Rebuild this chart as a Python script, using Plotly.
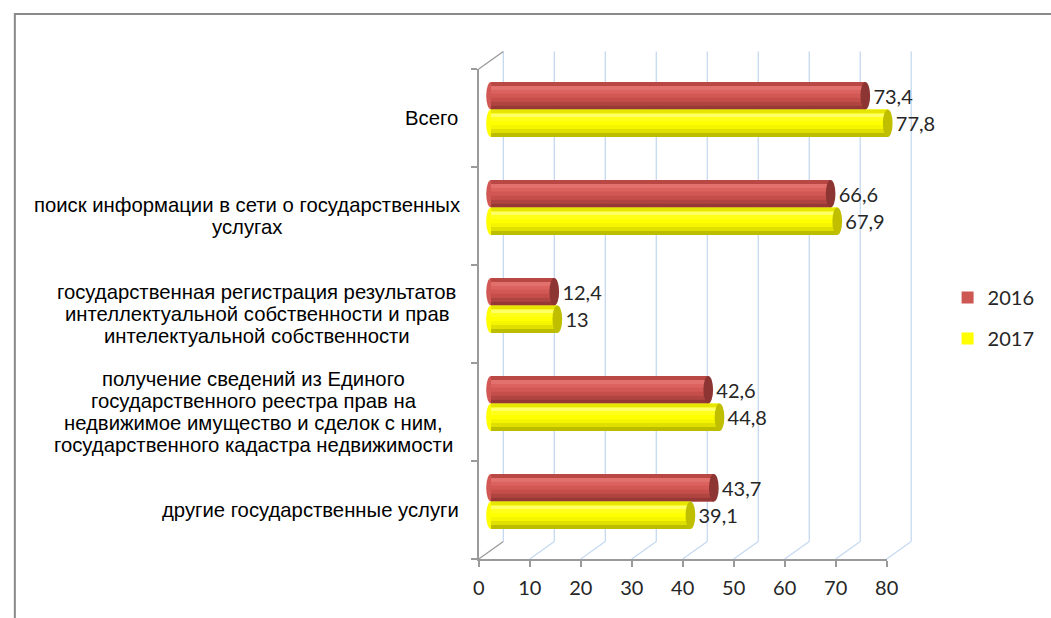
import plotly.graph_objects as go

# ---- data ----
categories = [
    "Всего",
    "поиск информации в сети о государственных услугах",
    "государственная регистрация результатов интеллектуальной собственности и прав интелектуальной собственности",
    "получение сведений из Единого государственного реестра прав на недвижимое имущество и сделок с ним, государственного кадастра недвижимости",
    "другие государственные услуги",
]
label_lines = [
    ["Всего"],
    ["поиск информации в сети о государственных", "услугах"],
    ["государственная регистрация результатов", "интеллектуальной собственности и прав", "интелектуальной собственности"],
    ["получение сведений из Единого", "государственного реестра прав на", "недвижимое имущество и сделок с ним,", "государственного кадастра недвижимости"],
    ["другие государственные услуги"],
]
series_names = ["2016", "2017"]
values_2016 = [73.4, 66.6, 12.4, 42.6, 43.7]
values_2017 = [77.8, 67.9, 13.0, 44.8, 39.1]
x_ticks = [0, 10, 20, 30, 40, 50, 60, 70, 80]

# ---- geometry helpers (pixel -> paper) ----
W, H = 1051, 618
def px(x): return x / W
def py(y): return 1 - y / H

X0 = 493.5          # pixel of value 0 on the bar (mid-depth) plane
S = 5.1875          # pixels per unit
FX0, FY_BOT, FY_TOP = 481, 559, 69   # front axis frame
DX, DY = 25, -17.5                   # depth offset (back wall)
BARGAP = 0.44
BW = (1 - BARGAP) / 2

red_shades = ["#B94744", "#E2706C", "#DB625E", "#D15854", "#C54E4A", "#B04440", "#963835"]
yel_shades = ["#E6E600", "#FFFF66", "#FFFF1A", "#FFFF00", "#F5F500", "#E0E000", "#BDBD00"]
cap_colors = ["#8C3532", "#BFBF00"]
body_colors = ["#CD5753", "#FFFF00"]

fig = go.Figure()
for name, vals, col in zip(series_names, [values_2016, values_2017], body_colors):
    fig.add_trace(go.Bar(
        y=categories, x=vals, name=name, orientation="h",
        marker=dict(color=col, line=dict(width=0)),
        text=[" " + f"{v:g}".replace(".", ",") for v in vals],
        textposition="outside", constraintext="none", cliponaxis=False,
        textfont=dict(family="Lato", size=20, color="#262626"),
        legendgroup=name,
    ))

# dummy trace to materialise the front-frame axes
fig.add_trace(go.Scatter(x=[0], y=[0], xaxis="x2", yaxis="y2", mode="markers",
                         marker=dict(opacity=0), showlegend=False, hoverinfo="skip"))

shapes = []
grid_col = "#C6D9F1"
axis_col = "#9A9A9A"
# outer border
shapes.append(dict(type="rect", xref="paper", yref="paper", x0=px(9), x1=px(1070),
                   y0=py(640), y1=py(14), line=dict(color="#8A8A8A", width=2)))
# back wall vertical gridlines and floor diagonals
for k, t in enumerate(x_ticks):
    fx = FX0 + t * S
    bx = fx + DX
    shapes.append(dict(type="line", xref="paper", yref="paper", x0=px(bx), x1=px(bx),
                       y0=py(FY_BOT + DY), y1=py(FY_TOP + DY), line=dict(color=grid_col, width=1.3), layer="below"))
    shapes.append(dict(type="line", xref="paper", yref="paper", x0=px(fx), x1=px(bx),
                       y0=py(FY_BOT), y1=py(FY_BOT + DY),
                       line=dict(color=axis_col if k == 0 else grid_col, width=1.3), layer="below"))
# top-left diagonal
shapes.append(dict(type="line", xref="paper", yref="paper", x0=px(FX0), x1=px(FX0 + DX),
                   y0=py(FY_TOP), y1=py(FY_TOP + DY), line=dict(color=axis_col, width=1.3), layer="below"))

# cylinder shading for bars
for si, (vals, shades) in enumerate(zip([values_2016, values_2017], [red_shades, yel_shades])):
    for i, v in enumerate(vals):
        c = i + (-BW / 2 if si == 0 else BW / 2)
        top, bot = c - BW / 2, c + BW / 2
        shapes.append(dict(type="circle", xref="x", yref="y", x0=-0.95, x1=0.95, y0=top, y1=bot,
                           fillcolor=shades[3], line=dict(width=0), layer="below"))
        n = len(shades)
        for j, sc in enumerate(shades):
            shapes.append(dict(type="rect", xref="x", yref="y", x0=0, x1=v,
                               y0=top + (bot - top) * j / n, y1=top + (bot - top) * (j + 1) / n,
                               fillcolor=sc, line=dict(width=0), layer="above"))
        shapes.append(dict(type="circle", xref="x", yref="y", x0=v - 0.95, x1=v + 0.95, y0=top, y1=bot,
                           fillcolor=cap_colors[si], line=dict(width=0), layer="above"))

# category labels
annotations = []
centers = [433, 245, 255, 252, 310]
for i, lines in enumerate(label_lines):
    n = len(lines)
    for li, ln in enumerate(lines):
        annotations.append(dict(text=ln, xref="paper", yref="y2", x=px(centers[i]), y=4.5 - i,
                                xanchor="center", yanchor="middle", showarrow=False,
                                yshift=-(li - (n - 1) / 2) * 22,
                                font=dict(family="Liberation Sans", size=20.3, color="#000000")))

fig.update_layout(
    autosize=True,
    margin=dict(l=0, r=0, t=0, b=0),
    paper_bgcolor="white", plot_bgcolor="rgba(0,0,0,0)",
    barmode="group", bargap=BARGAP, bargroupgap=0,
    showlegend=True,
    legend=dict(x=px(958), y=py(318), xanchor="left", yanchor="middle", traceorder="grouped",
                tracegroupgap=12, font=dict(family="Lato", size=20, color="#262626"),
                bgcolor="rgba(0,0,0,0)"),
    xaxis=dict(domain=[px(X0 - 2 * S), px(X0 + 82 * S)], range=[-2, 82], showgrid=False,
               zeroline=False, showticklabels=False, showline=False, anchor="y"),
    yaxis=dict(domain=[py(550.5), py(60.5)], type="category", categoryarray=categories,
               categoryorder="array", range=[4.5, -0.5], showgrid=False, zeroline=False,
               showticklabels=False, showline=False, anchor="x"),
    xaxis2=dict(domain=[px(FX0), px(FX0 + 80 * S)], range=[0, 80], tickvals=x_ticks,
                ticks="outside", ticklen=6, tickcolor=axis_col, tickwidth=1.5, showline=True,
                linecolor=axis_col, linewidth=1.5, showgrid=False, zeroline=False, anchor="y2",
                ticklabelstandoff=4, tickfont=dict(family="Lato", size=20, color="#262626")),
    yaxis2=dict(domain=[py(FY_BOT), py(FY_TOP)], range=[0, 5], tickvals=[0, 1, 2, 3, 4, 5],
                ticks="outside", ticklen=6, tickcolor=axis_col, tickwidth=1.5, showline=True,
                linecolor=axis_col, linewidth=1.5, showgrid=False, zeroline=False,
                showticklabels=False, anchor="x2"),
    shapes=shapes, annotations=annotations,
)

fig.write_html("out.html", config={"displayModeBar": False},
               default_width="100vw", default_height="100vh",
               post_script="document.documentElement.style.overflow='hidden';"
                           "document.body.style.margin='0';document.body.style.overflow='hidden';"
                           "window.dispatchEvent(new Event('resize'));")
